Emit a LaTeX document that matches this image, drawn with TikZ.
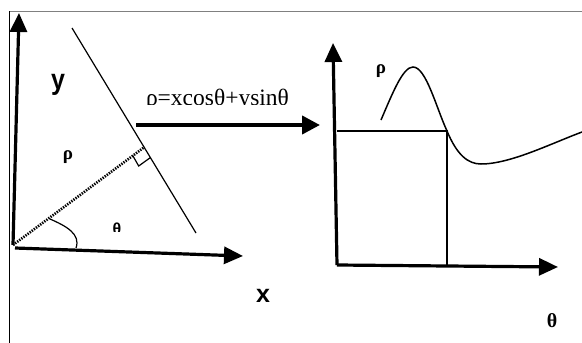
\documentclass[tikz,border=0pt]{standalone}
\usepackage{fontspec}
\setmainfont{Liberation Serif}
\newfontfamily\lsans{Liberation Sans}
\usetikzlibrary{arrows.meta,calc}
\begin{document}
\begin{tikzpicture}[x=1pt,y=-1pt,
  axis/.style={line width=3.2pt,-{Triangle[length=19pt,width=17pt]}},
  thinline/.style={line width=1.2pt},
  lbl/.style={inner sep=0pt,font=\lsans\bfseries\fontsize{25}{25}\selectfont},
  greek/.style={inner sep=0pt,font=\bfseries\fontsize{19}{19}\selectfont}]
\useasboundingbox (0,0) rectangle (582,343);
% frame
\draw[gray,line width=1pt] (9,11) -- (582,11);
\draw[black,line width=1pt] (9,11) -- (9,343);
% left diagram
\coordinate (O) at (13,245);
\coordinate (Ytip) at (19,13);
\coordinate (Xs) at (15,248);
\coordinate (Xtip) at (243,256);
\draw[axis] (O) -- (Ytip);
\draw[axis] (Xs) -- (Xtip);
\coordinate (A) at (72,28);
\coordinate (B) at (196,233);
\draw[thinline] (A) -- (B);
\coordinate (F) at (144.5,147);
\draw[line width=2.6pt,dash pattern=on 1.4pt off 1.2pt] (O) -- (F);
\coordinate (P1) at (132.7,155.5);
\coordinate (Q) at (150.5,157.5);
\coordinate (C) at (138.7,166);
\draw[thinline] (P1) -- (C) -- (Q);
\coordinate (T1) at (50,219);
\coordinate (T2) at (76,248);
\draw[thinline] (T1) .. controls (66,226) and (81,234) .. (T2);
\node[lbl,yscale=1.15] (ylab) at (58,85) {y};
\node[lbl] (xlab) at (263,296) {x};
\node[greek] (rho1) at (68,157) {ρ};
\begin{scope}
\clip (100,210) rectangle (135,231);
\node[inner sep=0pt,anchor=base,font=\lsans\bfseries\fontsize{16}{16}\selectfont] (th1) at (117,234) {θ};
\end{scope}
% formula and transform arrow
\begin{scope}
\clip (130,80) rectangle (310,104.5);
\node[inner sep=0pt,anchor=base,font=\fontsize{23.5}{23.5}\selectfont] (eq) at (217.5,105.5) {ρ=xcosθ+ysinθ};
\end{scope}
\coordinate (M1) at (136,125);
\coordinate (M2) at (320,125);
\draw[line width=4pt,-{Triangle[length=18pt,width=18pt]}] (M1) -- (M2);
% right diagram
\coordinate (O2) at (337,265);
\coordinate (Vtip) at (333,43);
\coordinate (Htip) at (558,267);
\draw[axis] (O2) -- (Vtip);
\draw[axis] (O2) -- (Htip);
\coordinate (R1) at (337,131);
\coordinate (R2) at (447,131);
\coordinate (R3) at (447,265);
\draw[thinline] (R1) -- (R2) -- (R3);
\coordinate (S) at (381,120);
\coordinate (Pk) at (413,67);
\coordinate (Mn) at (481,164);
\coordinate (E) at (582,132);
\draw[line width=1.5pt] (S) .. controls (393,92) and (403,67) .. (Pk)
  .. controls (426,67) and (436,107) .. (R2)
  .. controls (457,155) and (468,164) .. (Mn)
  .. controls (510,164) and (550,144) .. (E);
\node[greek] (rho2) at (381,71) {ρ};
\node[inner sep=0pt,font=\bfseries\fontsize{20}{20}\selectfont] (th2) at (552,321) {θ};
\end{tikzpicture}
\end{document}
